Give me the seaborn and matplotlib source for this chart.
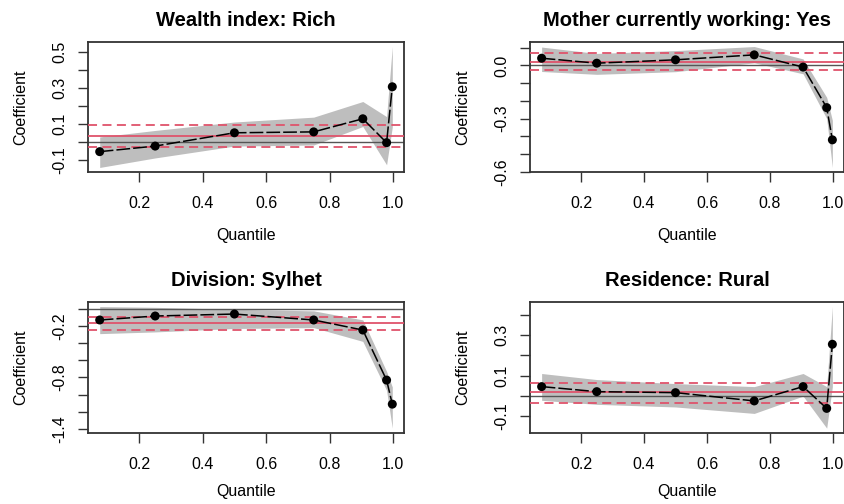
import numpy as np
import pandas as pd
import seaborn as sns
import matplotlib
matplotlib.use("Agg")
import matplotlib.pyplot as plt

# quantiles used in every panel
taus = [0.075, 0.25, 0.5, 0.75, 0.905, 0.98, 0.998]

titles = ["Wealth index: Rich", "Mother currently working: Yes",
          "Division: Sylhet", "Residence: Rural"]

# quantile regression coefficients and confidence band
coef_rich = [-0.055, -0.024, 0.050, 0.055, 0.128, -0.005, 0.306]
low_rich = [-0.143, -0.090, -0.024, -0.018, 0.085, -0.128, 0.082]
up_rich = [0.027, 0.063, 0.110, 0.137, 0.224, 0.140, 0.530]

coef_work = [0.041, 0.013, 0.032, 0.060, -0.009, -0.238, -0.420]
low_work = [-0.034, -0.050, -0.035, 0.015, -0.047, -0.300, -0.576]
up_work = [0.104, 0.068, 0.084, 0.107, 0.037, -0.180, -0.310]

coef_syl = [-0.131, -0.085, -0.062, -0.131, -0.248, -0.830, -1.110]
low_syl = [-0.290, -0.270, -0.230, -0.220, -0.380, -0.950, -1.389]
up_syl = [0.025, 0.016, -0.007, -0.025, -0.130, -0.730, -0.910]

coef_rur = [0.045, 0.020, 0.015, -0.026, 0.045, -0.063, 0.255]
low_rur = [-0.023, -0.043, -0.056, -0.088, -0.002, -0.161, 0.045]
up_rur = [0.110, 0.080, 0.060, 0.045, 0.110, 0.045, 0.442]

# OLS estimate and its confidence limits
ols = [0.031, 0.022, -0.163, 0.017]
ols_low = [-0.029, -0.024, -0.248, -0.035]
ols_up = [0.096, 0.071, -0.093, 0.064]

# y ticks and which ones carry a label
yticks = [[-0.1, 0.0, 0.1, 0.2, 0.3, 0.4, 0.5],
          [0.1, 0.0, -0.1, -0.2, -0.3, -0.4, -0.5, -0.6],
          [0.0, -0.2, -0.4, -0.6, -0.8, -1.0, -1.2, -1.4],
          [-0.1, 0.0, 0.1, 0.2, 0.3, 0.4]]
ylabels = [["-0.1", "", "0.1", "", "0.3", "", "0.5"],
           ["", "0.0", "", "", "-0.3", "", "", "-0.6"],
           ["", "-0.2", "", "", "-0.8", "", "", "-1.4"],
           ["-0.1", "", "0.1", "", "0.3", ""]]
xticks = [0.2, 0.4, 0.6, 0.8, 1.0]

coefs = [coef_rich, coef_work, coef_syl, coef_rur]
lows = [low_rich, low_work, low_syl, low_rur]
ups = [up_rich, up_work, up_syl, up_rur]

sns.set_style("ticks")
plt.rcParams["font.family"] = ["Liberation Sans", "DejaVu Sans"]
plt.rcParams["text.color"] = "black"
plt.rcParams["axes.labelcolor"] = "black"
plt.rcParams["xtick.color"] = "black"
plt.rcParams["ytick.color"] = "black"

red = "#DF536B"
fig = plt.figure(figsize=(8.45, 5.04), dpi=100)
W, H = 845, 504
boxes = [(88, 41.7, 404, 172.3), (530, 41.7, 844, 172.3),
         (88, 301.7, 404, 433), (530, 301.7, 844, 433)]

for i in range(4):
    x0, y0, x1, y1 = boxes[i]
    ax = fig.add_axes([x0 / W, 1 - y1 / H, (x1 - x0) / W, (y1 - y0) / H])
    df = pd.DataFrame({"tau": taus, "coef": coefs[i], "lo": lows[i], "hi": ups[i]})

    ax.fill_between(df["tau"], df["lo"], df["hi"], color="#BEBEBE", lw=0, zorder=1)
    ax.axhline(0, color="#555555", lw=1.0, zorder=2)
    ax.axhline(ols[i], color=red, lw=1.3, zorder=3)
    ax.axhline(ols_low[i], color=red, lw=1.3, ls=(0, (5, 3)), zorder=3)
    ax.axhline(ols_up[i], color=red, lw=1.3, ls=(0, (5, 3)), zorder=3)
    sns.lineplot(data=df, x="tau", y="coef", color="black", lw=1.1, ax=ax, zorder=4)
    ax.lines[-1].set_dashes((9, 2))
    sns.scatterplot(data=df, x="tau", y="coef", color="black", s=42,
                    edgecolor="none", ax=ax, zorder=5)

    # R-style 4% padding
    lo, hi = min(lows[i]), max(ups[i])
    pad = 0.04 * (hi - lo)
    ax.set_ylim(lo - pad, hi + pad)
    xpad = 0.04 * (taus[-1] - taus[0])
    ax.set_xlim(taus[0] - xpad, taus[-1] + xpad)

    ax.set_xticks(xticks)
    ax.set_xticklabels(["%.1f" % t for t in xticks], fontsize=11.5)
    ax.set_yticks(yticks[i])
    ax.set_yticklabels(ylabels[i], rotation=90, va="center", fontsize=11.5)
    ax.tick_params(axis="x", direction="out", length=7, width=1, color="#333333", pad=10)
    ax.tick_params(axis="y", direction="out", length=7, width=1, color="#333333", pad=8)
    for s in ax.spines.values():
        s.set_linewidth(1.3)
        s.set_color("#333333")
    ax.set_xlabel("Quantile", fontsize=11.5, labelpad=12 if i < 2 else 9)
    ax.set_ylabel("Coefficient", fontsize=11.5, labelpad=17)
    ax.set_title(titles[i], fontsize=14.5, fontweight="bold", pad=11)

fig.savefig("out.png", dpi=100, facecolor="white")
